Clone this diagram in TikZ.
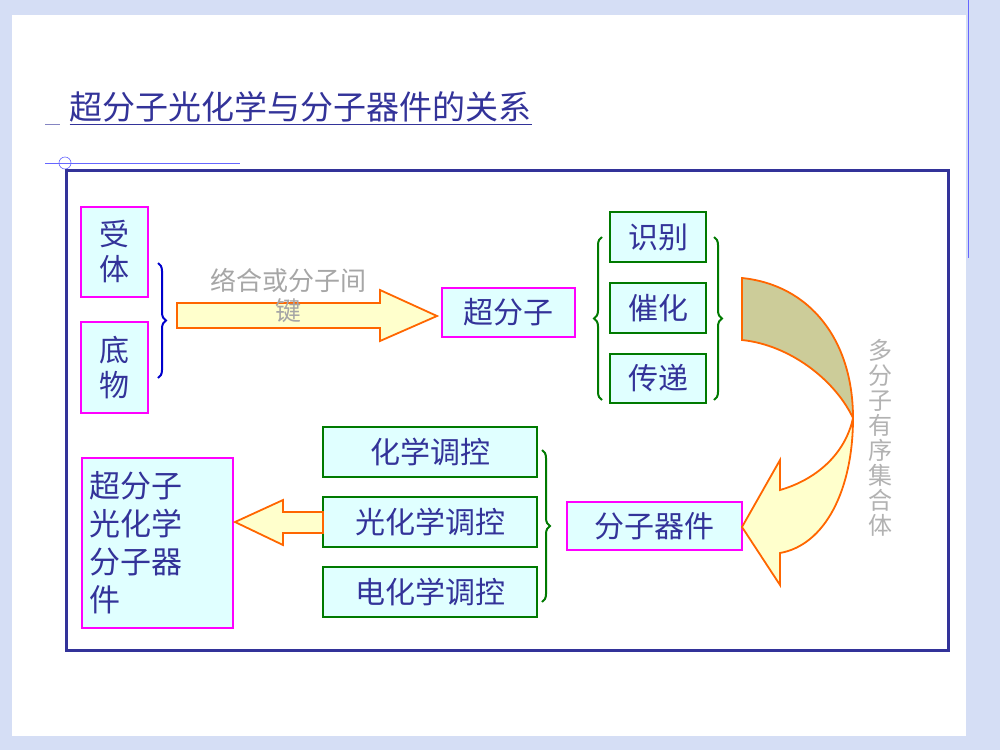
\documentclass[tikz,border=0pt]{standalone}
\usepackage{fontspec}
\setmainfont{Liberation Sans}
\newfontfamily\cjk{Noto Sans CJK SC}
\usetikzlibrary{decorations.pathreplacing}
\definecolor{tx}{HTML}{333399}
\definecolor{mg}{HTML}{FF00FF}
\definecolor{gr}{HTML}{007A00}
\definecolor{cy}{HTML}{E0FFFF}
\definecolor{ye}{HTML}{FFFFCC}
\definecolor{ol}{HTML}{CCCC99}
\definecolor{or}{HTML}{FF6600}
\definecolor{bg}{HTML}{D5DEF5}
\begin{document}
\begin{tikzpicture}[x=1pt,y=-1pt,
  mbox/.style={draw=mg,line width=2.2pt,fill=cy,text=tx,font=\cjk\fontsize{30}{35}\selectfont},
  gbox/.style={draw=gr,line width=2.2pt,fill=cy,text=tx,font=\cjk\fontsize{30}{35}\selectfont},
  arr/.style={draw=or,line width=1.8pt,fill=ye,line join=miter},
  brc/.style={decorate,decoration={brace,amplitude=8pt},line width=2pt}]
\useasboundingbox (0,0) rectangle (1000,750);
\fill[bg] (0,0) rectangle (1000,750);
\fill[white] (12,15) rectangle (966,736);
\draw[blue!60,line width=0.6pt] (968,0) -- (968,258);
\node[anchor=west,text=tx,font=\cjk\fontsize{33}{36}\selectfont] (title) at (66,108) {\underline{超分子光化学与分子器件的关系}};
\draw[tx!60,line width=1pt] (45,124) -- (60,124);
\draw[blue!60,line width=0.6pt] (45,163) -- (240,163);
\draw[blue!60,line width=0.6pt] (65,163) circle (6);
\draw[tx,line width=3pt] (66,170) rectangle (948,650);
% boxes
\node[mbox,minimum width=67pt,minimum height=90pt,align=center] (shou) at (114.5,252) {受\\体};
\node[mbox,minimum width=67pt,minimum height=91pt,align=center] (di) at (114.5,367.5) {底\\物};
\draw[brc,draw=blue!80!black] (158,263) -- (158,378);
\node[mbox,minimum width=133pt,minimum height=49pt] (chao) at (508.5,312.5) {超分子};
\node[gbox,minimum width=96pt,minimum height=50pt] (sb) at (658,237) {识别};
\node[gbox,minimum width=96pt,minimum height=50pt] (ch) at (658,308) {催化};
\node[gbox,minimum width=96pt,minimum height=49pt] (cd) at (658,378.5) {传递};
\draw[brc,draw=gr] (602,400) -- (602,237);
\draw[brc,draw=gr] (714,237) -- (714,400);
\node[gbox,minimum width=214pt,minimum height=50pt] (h1) at (430,452) {化学调控};
\node[gbox,minimum width=214pt,minimum height=50pt] (h2) at (430,522) {光化学调控};
\node[gbox,minimum width=214pt,minimum height=50pt] (h3) at (430,592) {电化学调控};
\draw[brc,draw=gr] (542,450) -- (542,602);
\node[mbox,minimum width=175pt,minimum height=48pt] (qj) at (654.5,526) {分子器件};
\node[mbox,minimum width=151pt,minimum height=170pt,anchor=north west,align=left,inner sep=7pt,text width=137pt,font=\cjk\fontsize{31}{38}\selectfont] (big) at (81,457) {超分子\\光化学\\分子器\\件};
% arrow 1
\draw[arr] (177,303) -- (380,303) -- (380,290) -- (437,316) -- (380,341) -- (380,328) -- (177,328) -- cycle;
\node[text=gray!70,font=\cjk\fontsize{26}{30}\selectfont,align=center] (lbl) at (288,296) {络合或分子间\\键};
% left arrow
\draw[arr] (323,512) -- (283,512) -- (283,500) -- (235,522) -- (283,545) -- (283,533) -- (323,533) -- cycle;
% curved arrow
\draw[arr,fill=ye] (853,418) .. controls (853,490) and (825,545) .. (780,553) -- (780,585) -- (742,527) -- (780,460) -- (780,490) .. controls (815,480) and (845,455) .. (853,418);
\draw[arr,fill=ol] (742,278) .. controls (810,285) and (853,340) .. (853,418) .. controls (835,380) and (790,345) .. (742,340) -- cycle;
\node[text=gray!60,font=\cjk\fontsize{24}{25}\selectfont,align=center] (vt) at (880,438) {多\\分\\子\\有\\序\\集\\合\\体};
\end{tikzpicture}
\end{document}
